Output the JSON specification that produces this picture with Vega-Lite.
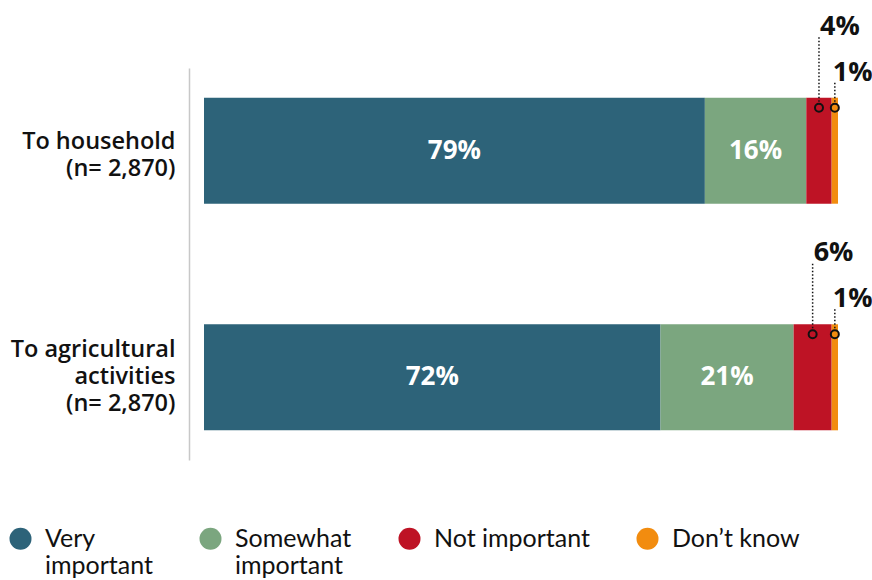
{
  "$schema": "https://vega.github.io/schema/vega-lite/v6.json",
  "autosize": "none",
  "width": 634,
  "height": 392,
  "padding": {"left": 204, "top": 68, "right": 34, "bottom": 120},
  "background": "white",
  "config": {
    "view": {"stroke": null},
    "font": "Lato",
    "style": {"guide-label": {"lineHeight": 27}}
  },
  "data": {
    "values": [
      {"cat": "To household (n= 2,870)", "response": "Very important", "ord": 1, "value": 79},
      {"cat": "To household (n= 2,870)", "response": "Somewhat important", "ord": 2, "value": 16},
      {"cat": "To household (n= 2,870)", "response": "Not important", "ord": 3, "value": 4},
      {"cat": "To household (n= 2,870)", "response": "Don’t know", "ord": 4, "value": 1},
      {"cat": "To agricultural activities (n= 2,870)", "response": "Very important", "ord": 1, "value": 72},
      {"cat": "To agricultural activities (n= 2,870)", "response": "Somewhat important", "ord": 2, "value": 21},
      {"cat": "To agricultural activities (n= 2,870)", "response": "Not important", "ord": 3, "value": 6},
      {"cat": "To agricultural activities (n= 2,870)", "response": "Don’t know", "ord": 4, "value": 1}
    ]
  },
  "transform": [
    {"stack": "value", "groupby": ["cat"], "sort": [{"field": "ord"}], "as": ["v0", "v1"]},
    {"calculate": "(datum.v0 + datum.v1) / 2", "as": "mid"},
    {"calculate": "datum.value + '%'", "as": "lbl"}
  ],
  "encoding": {
    "y": {
      "field": "cat",
      "type": "nominal",
      "sort": ["To household (n= 2,870)", "To agricultural activities (n= 2,870)"],
      "scale": {"paddingInner": 0.27, "paddingOuter": 0},
      "axis": {
        "title": null,
        "ticks": false,
        "offset": 15,
        "domainColor": "#c8c8c8",
        "domainWidth": 1.5,
        "labelPadding": 14,
        "labelFont": "Open Sans",
        "labelFontSize": 23.5,
        "labelFontWeight": 600,
        "labelColor": "#111111",
        "labelAlign": "right",
        "labelBaseline": "middle",
        "labelLimit": 300,
        "labelOffset": {"condition": {"test": "indexof(datum.label, 'agricultural') >= 0", "value": -27}, "value": -9},
        "labelExpr": "split(replace(replace(datum.label, ' (n', '|(n'), 'agricultural ', 'agricultural|'), '|')"
      }
    }
  },
  "layer": [
    {
      "mark": {"type": "bar", "height": {"band": 0.641}},
      "encoding": {
        "x": {"field": "v0", "type": "quantitative", "scale": {"domain": [0, 100]}, "axis": null},
        "x2": {"field": "v1"},
        "color": {
          "field": "response",
          "type": "nominal",
          "scale": {
            "domain": ["Very important", "Somewhat important", "Not important", "Don’t know"],
            "range": ["#2d6379", "#7ba67f", "#be1325", "#f28c0f"]
          },
          "legend": {
            "title": null,
            "orient": "none",
            "legendX": -196,
            "legendY": 458,
            "direction": "horizontal",
            "columns": 4,
            "columnPadding": 45,
            "symbolType": "circle",
            "symbolSize": 484,
            "symbolStrokeWidth": 0,
            "symbolOpacity": 1,
            "labelOffset": 12,
            "labelFont": "Lato",
            "labelFontSize": 25,
            "labelColor": "#111111",
            "labelBaseline": "middle",
            "labelLimit": 300,
            "labelExpr": "datum.label == 'Very important' ? ['Very', 'important'] : datum.label == 'Somewhat important' ? ['Somewhat', 'important'] : [datum.label, '']"
          }
        }
      }
    },
    {
      "transform": [{"filter": "datum.ord <= 2"}],
      "mark": {"type": "text", "color": "white", "fontSize": 26, "fontWeight": "bold", "font": "Open Sans", "baseline": "middle"},
      "encoding": {
        "x": {"field": "mid", "type": "quantitative"},
        "text": {"field": "lbl"}
      }
    },
    {
      "transform": [{"filter": "datum.ord == 3"}],
      "mark": {"type": "rule", "color": "#111111", "strokeWidth": 1.5, "strokeDash": [1.5, 2], "yOffset": -49, "y2Offset": -115},
      "encoding": {
        "x": {"field": "mid", "type": "quantitative"},
        "y2": {"field": "cat"}
      }
    },
    {
      "transform": [{"filter": "datum.ord == 4"}],
      "mark": {"type": "rule", "color": "#111111", "strokeWidth": 1.5, "strokeDash": [1.5, 2], "yOffset": -49, "y2Offset": -69},
      "encoding": {
        "x": {"field": "mid", "type": "quantitative"},
        "y2": {"field": "cat"}
      }
    },
    {
      "transform": [{"filter": "datum.ord >= 3"}],
      "mark": {"type": "point", "shape": "circle", "filled": false, "color": "#111111", "strokeWidth": 2, "size": 64, "yOffset": -43, "opacity": 1},
      "encoding": {
        "x": {"field": "mid", "type": "quantitative"}
      }
    },
    {
      "transform": [{"filter": "datum.ord == 3"}],
      "mark": {"type": "text", "color": "#111111", "fontSize": 27, "fontWeight": "bold", "font": "Open Sans", "align": "left", "baseline": "middle", "dx": 1, "yOffset": -124},
      "encoding": {
        "x": {"field": "mid", "type": "quantitative"},
        "text": {"field": "lbl"}
      }
    },
    {
      "transform": [{"filter": "datum.ord == 4"}],
      "mark": {"type": "text", "color": "#111111", "fontSize": 27, "fontWeight": "bold", "font": "Open Sans", "align": "left", "baseline": "middle", "dx": -2, "yOffset": -78},
      "encoding": {
        "x": {"field": "mid", "type": "quantitative"},
        "text": {"field": "lbl"}
      }
    }
  ]
}
